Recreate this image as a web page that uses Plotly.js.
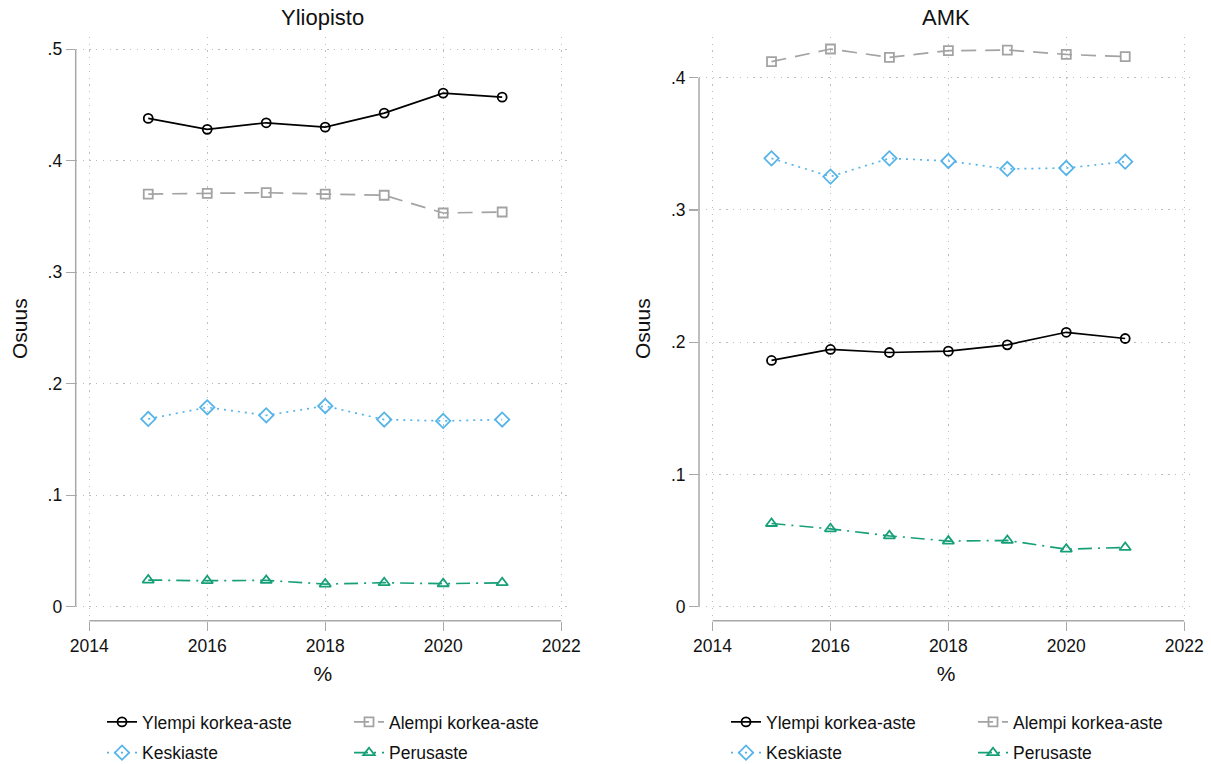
<!DOCTYPE html>
<html>
<head>
<meta charset="utf-8">
<script src="https://cdn.plot.ly/plotly-3.0.1.min.js"></script>
<style>html,body{margin:0;padding:0;background:#fff;}#chart{width:1211px;height:764px;}</style>
</head>
<body>
<div id="chart"></div>
<script>
// ---- data ----
const years = [2015, 2016, 2017, 2018, 2019, 2020, 2021];
const seriesNames = ["Ylempi korkea-aste", "Alempi korkea-aste", "Keskiaste", "Perusaste"];
const panelTitles = ["Yliopisto", "AMK"];

const uniYlempi    = [0.4379, 0.4281, 0.4340, 0.4301, 0.4427, 0.4606, 0.4570];
const uniAlempi    = [0.3701, 0.3707, 0.3713, 0.3701, 0.3690, 0.3531, 0.3540];
const uniKeskiaste = [0.1684, 0.1788, 0.1716, 0.1800, 0.1678, 0.1666, 0.1678];
const uniPerusaste = [0.0239, 0.0233, 0.0236, 0.0203, 0.0215, 0.0206, 0.0215];

const amkYlempi    = [0.1862, 0.1945, 0.1922, 0.1932, 0.1980, 0.2075, 0.2028];
const amkAlempi    = [0.4121, 0.4217, 0.4154, 0.4204, 0.4209, 0.4176, 0.4159];
const amkKeskiaste = [0.3390, 0.3252, 0.3390, 0.3370, 0.3310, 0.3317, 0.3365];
const amkPerusaste = [0.0629, 0.0589, 0.0536, 0.0496, 0.0501, 0.0435, 0.0448];

const xTickVals = [2014, 2016, 2018, 2020, 2022];
const xTickText = ["2014", "2016", "2018", "2020", "2022"];
const uniYTickVals = [0, 0.1, 0.2, 0.3, 0.4, 0.5];
const uniYTickText = ["0", ".1", ".2", ".3", ".4", ".5"];
const amkYTickVals = [0, 0.1, 0.2, 0.3, 0.4];
const amkYTickText = ["0", ".1", ".2", ".3", ".4"];
const xTitle = "%";
const yTitle = "Osuus";

// ---- styles ----
const FONT = "Liberation Sans, Arial, sans-serif";
const styles = [
  {color: "#000000", dash: "solid", symbol: "circle-open", size: 9, lw: 1.7},
  {color: "#a3a3a3", dash: "15px,9px", symbol: "square-open", size: 9, lw: 1.7},
  {color: "#56b4e9", dash: "2px,5px", symbol: "diamond-open", size: 11, lw: 1.7},
  {color: "#17a078", dash: "14px,6px,2px,6px", symbol: "triangle-up-open", size: 10, lw: 1.7}
];
const uniData = [uniYlempi, uniAlempi, uniKeskiaste, uniPerusaste];
const amkData = [amkYlempi, amkAlempi, amkKeskiaste, amkPerusaste];
// legend columns: col1 = Ylempi, Keskiaste ; col2 = Alempi, Perusaste
const colOf = [0, 1, 0, 1];

const traces = [];
function addPanel(data, xa, ya, legA, legB) {
  data.forEach((vals, i) => {
    const s = styles[i];
    traces.push({
      type: "scatter", mode: "lines+markers",
      x: years, y: vals, xaxis: xa, yaxis: ya,
      name: seriesNames[i],
      legend: colOf[i] === 0 ? legA : legB,
      legendgroup: xa + "_" + i,
      line: {color: s.color, dash: s.dash, width: s.lw},
      marker: {symbol: s.symbol, size: s.size, color: s.color, line: {width: 1.8, color: s.color}},
      hoverinfo: "x+y+name"
    });
  });
}
addPanel(uniData, "x", "y", "legend", "legend2");
addPanel(amkData, "x2", "y2", "legend3", "legend4");

const W = 1211, H = 764;
const px = v => v / W, py = v => 1 - v / H;
const yDomain = [py(620.7), py(36.7)];

function xAxis(domain) {
  return {
    domain: domain, range: [2013.77, 2022.15],
    tickvals: xTickVals, ticktext: xTickText,
    ticks: "outside", ticklen: 9, tickwidth: 1.3, tickcolor: "#a8a8a8",
    showline: false, zeroline: false,
    showgrid: true, gridcolor: "#bdbdbd", gridwidth: 1, griddash: "1.3px,5.5px",
    tickfont: {family: FONT, size: 17.5, color: "#111"},
    title: {text: xTitle, font: {family: FONT, size: 21, color: "#111"}, standoff: 11},
    fixedrange: true
  };
}
function yAxis(domain, range, tv, tt, anchor) {
  return {
    domain: domain, range: range, anchor: anchor,
    tickvals: tv, ticktext: tt,
    ticks: "outside", ticklen: 9, tickwidth: 1.3, tickcolor: "#a8a8a8",
    showline: false, zeroline: false,
    showgrid: true, gridcolor: "#bdbdbd", gridwidth: 1, griddash: "1.3px,5.5px",
    tickfont: {family: FONT, size: 17.5, color: "#111"},
    title: {text: yTitle, font: {family: FONT, size: 21, color: "#111"}, standoff: 14},
    fixedrange: true
  };
}

const legBase = {
  orientation: "v", xanchor: "left", yanchor: "top",
  bgcolor: "rgba(0,0,0,0)", borderwidth: 0,
  font: {family: FONT, size: 17.5, color: "#111"},
  tracegroupgap: 5, traceorder: "grouped", itemwidth: 30
};
const legY = py(704);

const layout = {
  width: W, height: H,
  margin: {l: 0, r: 0, t: 0, b: 0, pad: 0, autoexpand: false},
  paper_bgcolor: "#ffffff", plot_bgcolor: "#ffffff",
  font: {family: FONT, color: "#111"},
  showlegend: true,
  xaxis: Object.assign(xAxis([px(75.7), px(570)]), {anchor: "y"}),
  yaxis: yAxis(yDomain, [-0.01256, 0.5112], uniYTickVals, uniYTickText, "x"),
  xaxis2: Object.assign(xAxis([px(699), px(1193)]), {anchor: "y2"}),
  yaxis2: yAxis(yDomain, [-0.01059, 0.431], amkYTickVals, amkYTickText, "x2"),
  legend:  Object.assign({}, legBase, {x: px(102), y: legY}),
  legend2: Object.assign({}, legBase, {x: px(349), y: legY}),
  legend3: Object.assign({}, legBase, {x: px(726), y: legY}),
  legend4: Object.assign({}, legBase, {x: px(973), y: legY}),
  annotations: [
    {text: panelTitles[0], xref: "x domain", x: 0.5, yref: "paper", y: py(18), xanchor: "center", yanchor: "middle", showarrow: false, font: {family: FONT, size: 22, color: "#111"}},
    {text: panelTitles[1], xref: "x2 domain", x: 0.5, yref: "paper", y: py(18), xanchor: "center", yanchor: "middle", showarrow: false, font: {family: FONT, size: 22, color: "#111"}}
  ],
  shapes: [
    {type: "line", xref: "x domain", x0: 0, x1: 0, yref: "y", y0: uniYTickVals[0], y1: uniYTickVals[uniYTickVals.length - 1], line: {color: "#a8a8a8", width: 1.5}},
    {type: "line", xref: "x", x0: xTickVals[0], x1: xTickVals[xTickVals.length - 1], yref: "y domain", y0: 0, y1: 0, line: {color: "#a8a8a8", width: 1.5}},
    {type: "line", xref: "x2 domain", x0: 0, x1: 0, yref: "y2", y0: amkYTickVals[0], y1: amkYTickVals[amkYTickVals.length - 1], line: {color: "#a8a8a8", width: 1.5}},
    {type: "line", xref: "x2", x0: xTickVals[0], x1: xTickVals[xTickVals.length - 1], yref: "y2 domain", y0: 0, y1: 0, line: {color: "#a8a8a8", width: 1.5}}
  ]
};

Plotly.newPlot("chart", traces, layout, {displayModeBar: false, staticPlot: true});
</script>
</body>
</html>
